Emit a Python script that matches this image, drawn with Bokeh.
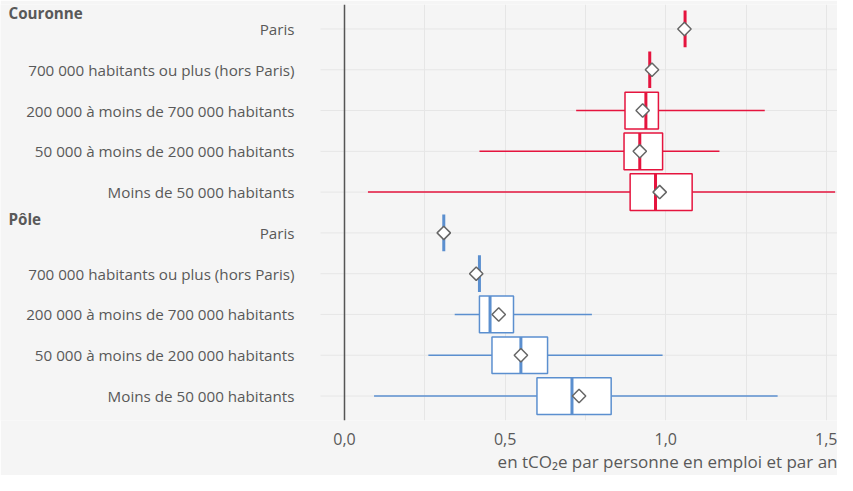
from bokeh.plotting import figure
from bokeh.models import Range1d, FixedTicker, Span, ColumnDataSource, Title
from bokeh.core.properties import value
from bokeh.embed import file_html
from bokeh.resources import INLINE

# ---------------- data ----------------
groups = ["Couronne", "Pôle"]
categories = [
    "Paris",
    "700 000 habitants ou plus (hors Paris)",
    "200 000 à moins de 700 000 habitants",
    "50 000 à moins de 200 000 habitants",
    "Moins de 50 000 habitants",
]
x_ticks = [0.0, 0.5, 1.0, 1.5]
x_tick_labels = ["0,0", "0,5", "1,0", "1,5"]
x_title = "en tCO₂e par personne en emploi et par an"

couronne_median = [1.060, 0.950, 0.938, 0.919, 0.968]
couronne_mean = [1.058, 0.957, 0.928, 0.919, 0.981]
couronne_q1 = [None, None, 0.873, 0.870, 0.889]
couronne_q3 = [None, None, 0.977, 0.990, 1.082]
couronne_wmin = [None, None, 0.721, 0.420, 0.073]
couronne_wmax = [None, None, 1.308, 1.167, 1.527]

pole_median = [0.309, 0.420, 0.453, 0.549, 0.708]
pole_mean = [0.309, 0.410, 0.480, 0.549, 0.730]
pole_q1 = [None, None, 0.420, 0.459, 0.599]
pole_q3 = [None, None, 0.526, 0.632, 0.830]
pole_wmin = [None, None, 0.343, 0.261, 0.092]
pole_wmax = [None, None, 0.770, 0.990, 1.348]

# ---------------- style / layout ----------------
RED = "#e5143e"
BLUE = "#5b8fcf"
TXT = "#595959"
BG = "#f5f5f5"
GRID = "#e6e6e6"
FONT = "Open Sans"
FS = "15.2px"
BOX_H = 0.9

W, H = 837, 475
ZERO_PX, PX_PER_UNIT = 344, 321.3          # where 0 sits, and scale
X0 = -ZERO_PX / PX_PER_UNIT
X1 = (W - ZERO_PX) / PX_PER_UNIT
GRID_X0 = -24 / PX_PER_UNIT                 # start of horizontal grid lines
LABEL_X = -50 / PX_PER_UNIT                 # right edge of row labels
HEADER_X = X0 + 8 / PX_PER_UNIT             # left edge of group headers

p = figure(
    width=W, height=H, output_backend="svg", toolbar_location=None,
    x_range=Range1d(X0, X1), y_range=Range1d(9.6, -0.6),
    min_border_left=0, min_border_right=0, min_border_top=4,
    min_border_bottom=55,
    background_fill_color=BG, border_fill_color=BG, outline_line_color=None,
)

# x axis
p.xaxis.ticker = FixedTicker(ticks=x_ticks, minor_ticks=[0.25, 0.75, 1.25])
p.xaxis.major_label_overrides = {t: l for t, l in zip(x_ticks, x_tick_labels)}
p.xaxis.axis_line_color = None
p.xaxis.major_tick_line_color = None
p.xaxis.minor_tick_line_color = None
p.xaxis.major_label_text_font = FONT
p.xaxis.major_label_text_font_size = "16px"
p.xaxis.major_label_text_color = TXT
p.xaxis.major_label_standoff = 6
p.yaxis.visible = False

p.xgrid.grid_line_color = GRID
p.xgrid.minor_grid_line_color = GRID
p.ygrid.grid_line_color = None

rows_all = list(range(10))
p.segment(x0=[GRID_X0] * 10, x1=[X1] * 10, y0=rows_all, y1=rows_all,
          line_color=GRID, line_width=1)

p.add_layout(Span(location=0, dimension="height", line_color="#555555", line_width=1.5))

# row labels and group headers
p.text(x=[LABEL_X] * 10, y=rows_all, text=[categories[i % 5] for i in rows_all],
       text_align="right", text_baseline="middle", text_font=value(FONT),
       text_font_size=FS, text_color=TXT)
p.text(x=[HEADER_X] * 2, y=[-0.39, 4.65], text=groups,
       text_align="left", text_baseline="middle", text_font=value(FONT),
       text_font_size=FS, text_font_style="bold", text_color=TXT)

def draw(offset, color, med, mean, q1, q3, wmin, wmax):
    rows = [offset + i for i in range(5)]
    bi = [i for i in range(5) if q1[i] is not None]
    src = ColumnDataSource(dict(
        y=[rows[i] for i in bi],
        q1=[q1[i] for i in bi], q3=[q3[i] for i in bi],
        wmin=[wmin[i] for i in bi], wmax=[wmax[i] for i in bi],
    ))
    p.segment(x0="wmin", x1="q1", y0="y", y1="y", source=src, line_color=color, line_width=1.5)
    p.segment(x0="q3", x1="wmax", y0="y", y1="y", source=src, line_color=color, line_width=1.5)
    p.hbar(y="y", left="q1", right="q3", height=BOX_H, source=src,
           fill_color="white", line_color=color, line_width=1.5)
    msrc = ColumnDataSource(dict(
        x=med, y0=[r - BOX_H / 2 for r in rows], y1=[r + BOX_H / 2 for r in rows],
    ))
    p.segment(x0="x", x1="x", y0="y0", y1="y1", source=msrc, line_color=color, line_width=3)
    p.scatter(x=mean, y=rows, marker="square", angle=0.785398, size=9.5,
              fill_color="white", line_color="#666666", line_width=1.5)

draw(0, RED, couronne_median, couronne_mean, couronne_q1, couronne_q3, couronne_wmin, couronne_wmax)
draw(5, BLUE, pole_median, pole_mean, pole_q1, pole_q3, pole_wmin, pole_wmax)

# axis title (bottom right)
p.add_layout(Title(text=x_title, align="right", text_font=FONT, text_font_size="17px",
                   text_font_style="normal", text_color=TXT, standoff=1, offset=0),
             "below")

open("out.html", "w").write(file_html(p, INLINE))
